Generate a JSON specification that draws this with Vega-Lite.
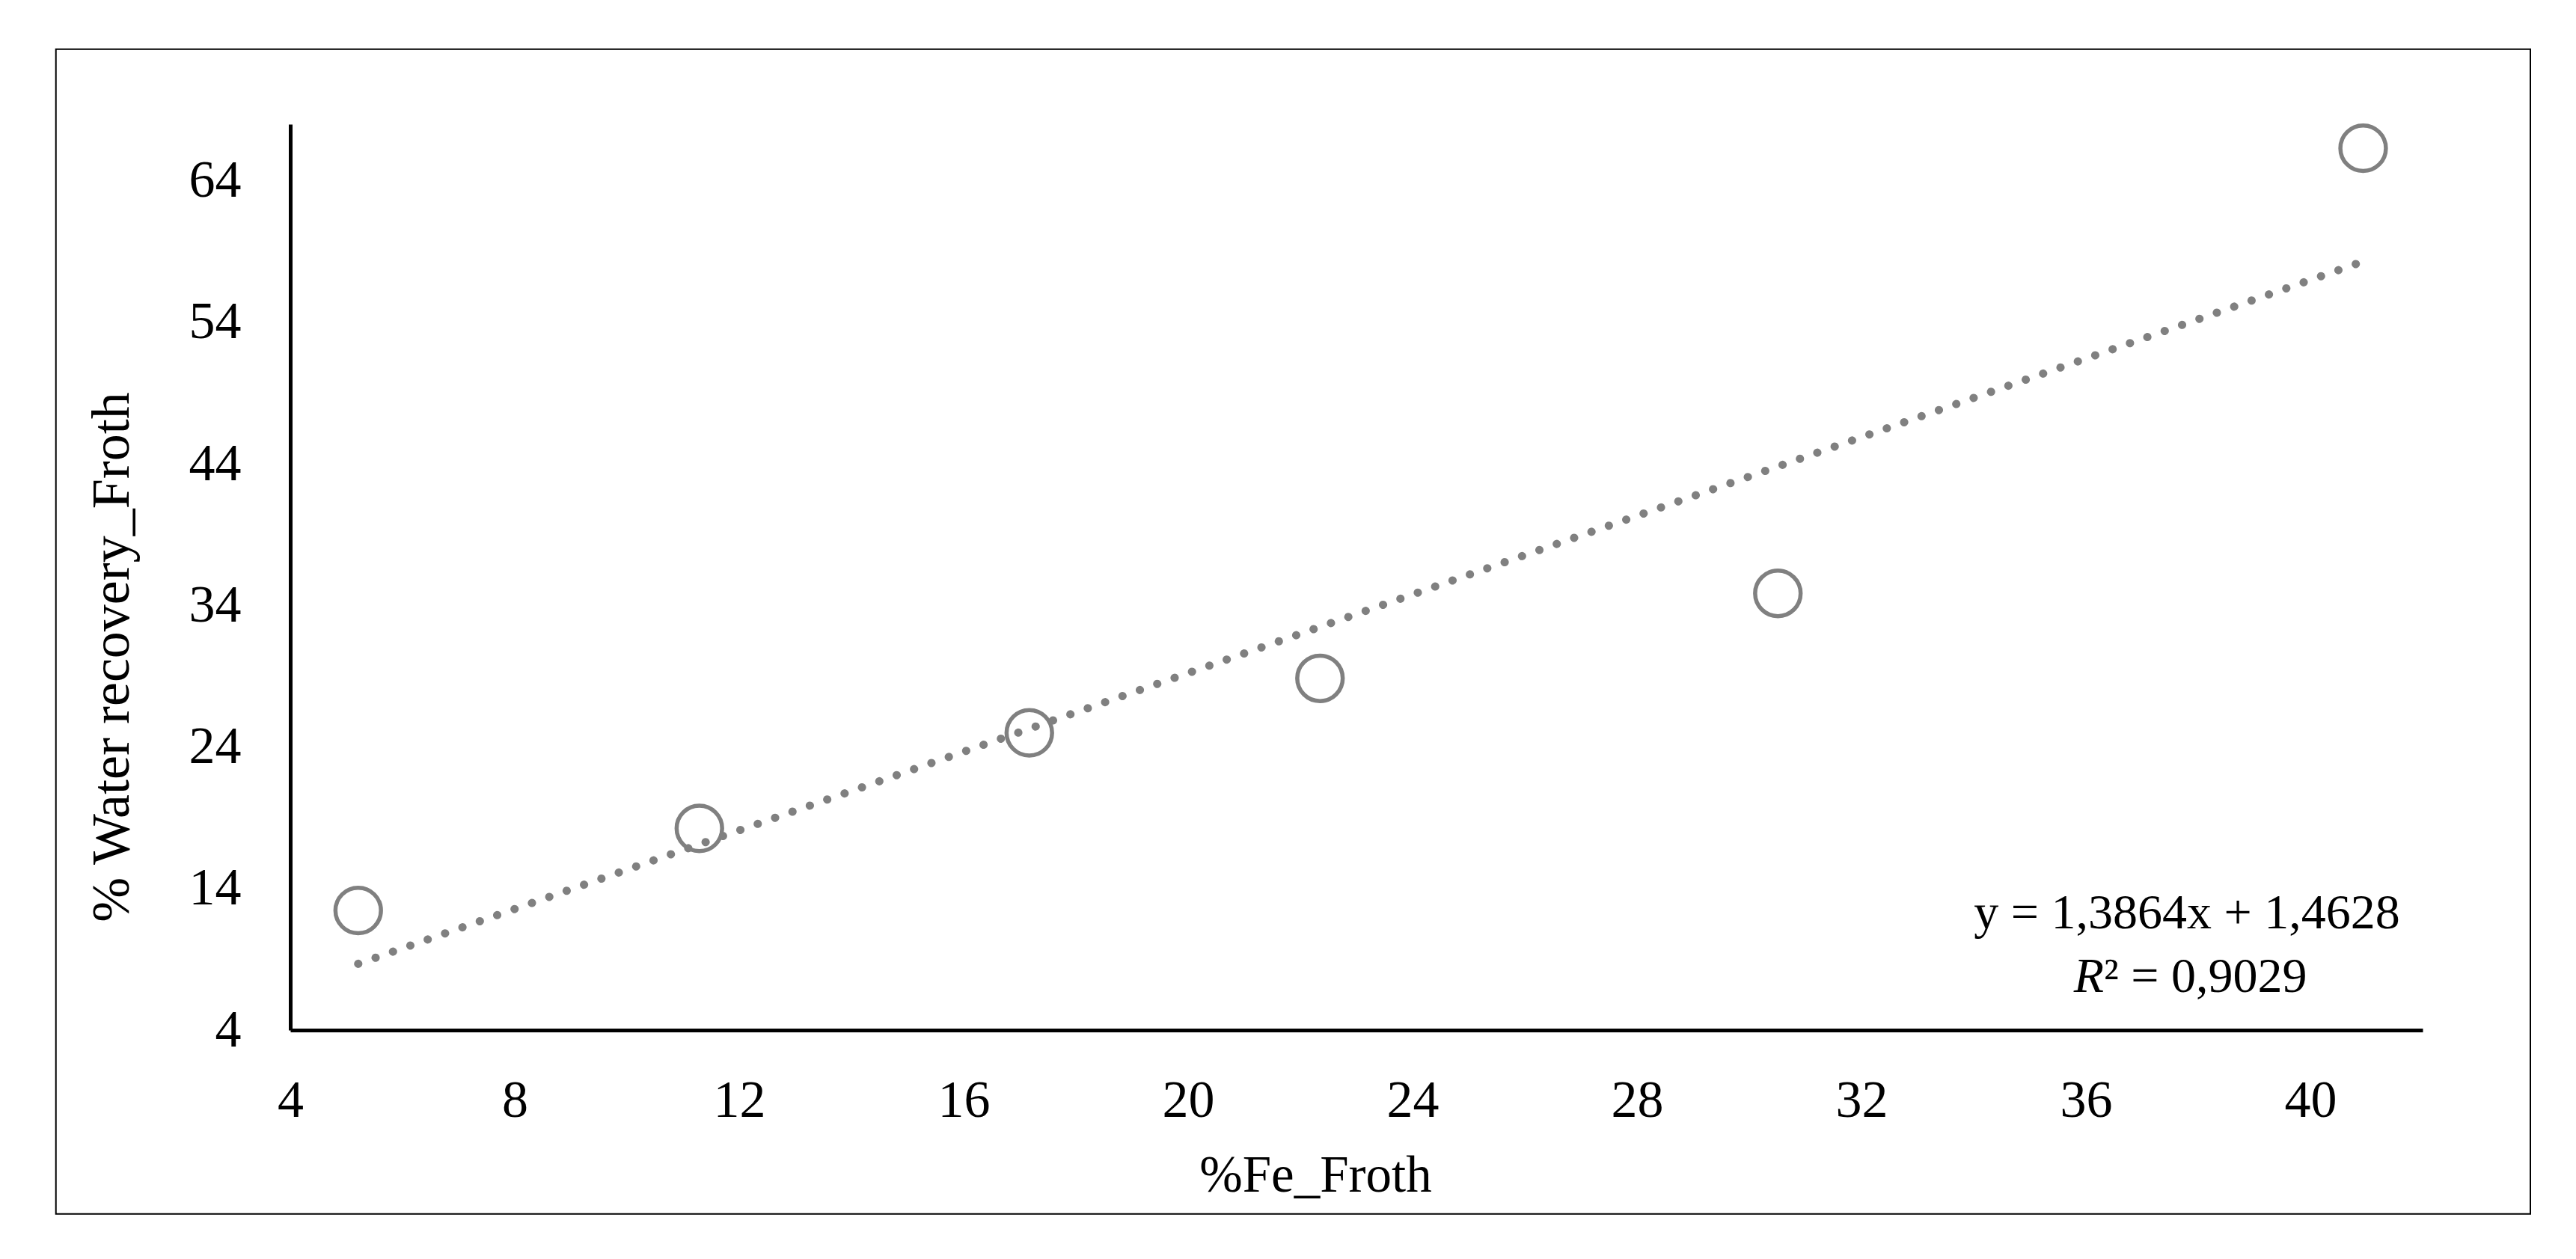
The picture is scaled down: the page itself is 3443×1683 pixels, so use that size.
{
  "$schema": "https://vega.github.io/schema/vega-lite/v6.json",
  "width": 2850,
  "height": 1211,
  "autosize": "none",
  "padding": {"left": 388, "top": 166, "right": 205, "bottom": 306},
  "background": "white",
  "config": {"view": {"stroke": null}, "font": "Liberation Serif"},
  "data": {
    "values": [
      {"fe": 5.21, "water": 12.45},
      {"fe": 11.29, "water": 18.25},
      {"fe": 17.17, "water": 25.0},
      {"fe": 22.35, "water": 28.85},
      {"fe": 30.51, "water": 34.85},
      {"fe": 40.94, "water": 66.3}
    ]
  },
  "layer": [
    {
      "data": {"values": [{}]},
      "mark": {"type": "rect", "fill": "transparent", "stroke": "black", "strokeWidth": 2, "clip": false},
      "encoding": {
        "x": {"datum": -0.177, "type": "quantitative"},
        "x2": {"datum": 43.92},
        "y": {"datum": 73.3, "type": "quantitative"},
        "y2": {"datum": -8.99}
      }
    },
    {
      "mark": {"type": "point", "shape": "circle", "filled": false, "size": 3700, "stroke": "#808080", "strokeWidth": 5.5, "opacity": 1},
      "encoding": {
        "x": {
          "field": "fe", "type": "quantitative",
          "scale": {"domain": [4, 42], "nice": false, "zero": false},
          "axis": {
            "values": [4, 8, 12, 16, 20, 24, 28, 32, 36, 40],
            "format": "d",
            "labelFlush": false,
            "title": "%Fe_Froth",
            "grid": false, "ticks": false,
            "domainColor": "black", "domainWidth": 5,
            "labelFontSize": 70, "labelColor": "black", "labelPadding": 60,
            "labelFont": "Liberation Serif",
            "titleFont": "Liberation Serif",
            "titleFontSize": 69, "titleFontWeight": "normal", "titleColor": "black",
            "titleX": 1370, "titleY": 215, "titleBaseline": "alphabetic", "titleAlign": "center"
          }
        },
        "y": {
          "field": "water", "type": "quantitative",
          "scale": {"domain": [4, 68], "nice": false, "zero": false},
          "axis": {
            "values": [4, 14, 24, 34, 44, 54, 64],
            "format": "d",
            "labelFlush": false,
            "title": "% Water recovery_Froth",
            "grid": false, "ticks": false,
            "domainColor": "black", "domainWidth": 5,
            "labelFontSize": 70, "labelColor": "black", "labelPadding": 66,
            "labelFont": "Liberation Serif",
            "titleFont": "Liberation Serif",
            "titleFontSize": 72, "titleFontWeight": "normal", "titleColor": "black",
            "titleAngle": 270,
            "titleX": -217, "titleY": 712, "titleBaseline": "alphabetic", "titleAlign": "center"
          }
        }
      }
    },
    {
      "transform": [{"regression": "water", "on": "fe"}],
      "mark": {"type": "line", "stroke": "#808080", "strokeWidth": 11, "strokeCap": "round", "strokeDash": [0.1, 24.5]},
      "encoding": {
        "x": {"field": "fe", "type": "quantitative"},
        "y": {"field": "water", "type": "quantitative"}
      }
    },
    {
      "data": {"values": [{"label": "y = 1,3864x + 1,4628"}]},
      "mark": {"type": "text", "align": "center", "baseline": "alphabetic", "fontSize": 66, "font": "Liberation Serif", "color": "black"},
      "encoding": {
        "x": {"datum": 37.8, "type": "quantitative"},
        "y": {"datum": 11.19, "type": "quantitative"},
        "text": {"field": "label"}
      }
    },
    {
      "data": {"values": [{"label": "R"}]},
      "mark": {"type": "text", "align": "right", "baseline": "alphabetic", "fontSize": 66, "font": "Liberation Serif", "fontStyle": "italic", "color": "black"},
      "encoding": {
        "x": {"datum": 36.32, "type": "quantitative"},
        "y": {"datum": 6.7, "type": "quantitative"},
        "text": {"field": "label"}
      }
    },
    {
      "data": {"values": [{"label": "² = 0,9029"}]},
      "mark": {"type": "text", "align": "left", "baseline": "alphabetic", "fontSize": 66, "font": "Liberation Serif", "color": "black"},
      "encoding": {
        "x": {"datum": 36.32, "type": "quantitative"},
        "y": {"datum": 6.7, "type": "quantitative"},
        "text": {"field": "label"}
      }
    }
  ]
}
